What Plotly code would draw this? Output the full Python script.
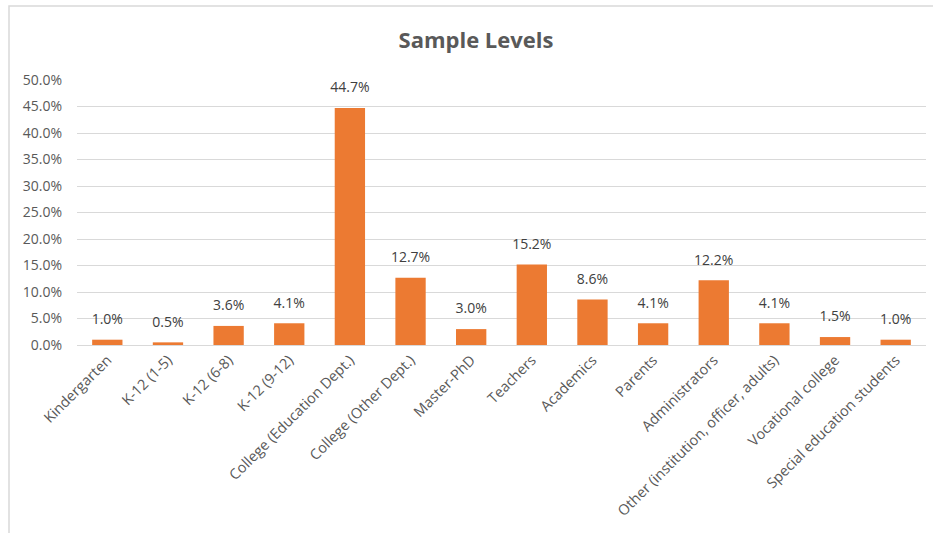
import plotly.graph_objects as go

# Share of respondents by sample level
categories = [
    "Kindergarten", "K-12 (1-5)", "K-12 (6-8)", "K-12 (9-12)",
    "College (Education Dept.)", "College (Other Dept.)", "Master-PhD",
    "Teachers", "Academics", "Parents", "Administrators",
    "Other (institution, officer, adults)", "Vocational college",
    "Special education students",
]
shares = [1.0, 0.5, 3.6, 4.1, 44.7, 12.7, 3.0, 15.2, 8.6, 4.1, 12.2, 4.1, 1.5, 1.0]
y_ticks = [0, 5, 10, 15, 20, 25, 30, 35, 40, 45, 50]

values = [v / 100 for v in shares]
labels = [f"{v:.1f}%" for v in shares]

FONT = "Open Sans, Liberation Sans, sans-serif"
W, H = 933, 533
L, R, T, B = 77, 7, 80, 188

fig = go.Figure()
fig.add_trace(
    go.Bar(
        x=categories,
        y=values,
        marker=dict(color="#EC7A32", line=dict(width=0)),
        hoverinfo="x+y",
    )
)
# value labels floating a little above each bar (invisible marker gives the gap)
fig.add_trace(
    go.Scatter(
        x=categories,
        y=values,
        mode="markers+text",
        marker=dict(size=18, opacity=0),
        text=labels,
        textposition="top center",
        textfont=dict(family=FONT, size=14, color="#404040"),
        cliponaxis=False,
        hoverinfo="skip",
    )
)

# light frame along the top and left edges of the chart area
pw, ph = W - L - R, H - T - B
fx = lambda px: (px - L) / pw
fy = lambda py: (H - B - py) / ph
fig.add_shape(
    type="path",
    xref="paper", yref="paper",
    path=f"M {fx(9)} {fy(H + 5)} L {fx(9)} {fy(6)} L {fx(W + 5)} {fy(6)}",
    line=dict(color="#D9D9D9", width=1.5),
    layer="below",
)

fig.update_layout(
    width=W,
    height=H,
    margin=dict(l=L, r=R, t=T, b=B),
    paper_bgcolor="white",
    plot_bgcolor="white",
    bargap=0.5,
    showlegend=False,
    title=dict(
        text="<b>Sample Levels</b>",
        x=476 / W,
        xanchor="center",
        y=1 - 40 / H,
        yanchor="middle",
        font=dict(family=FONT, size=22, color="#595959"),
    ),
    xaxis=dict(
        range=[-0.5, len(categories) - 0.5],
        tickangle=-45,
        tickfont=dict(family=FONT, size=14.5, color="#595959"),
        showline=True,
        linecolor="#D9D9D9",
        linewidth=1,
        ticks="",
        showgrid=False,
    ),
    yaxis=dict(
        range=[0, 0.5],
        tickvals=[t / 100 for t in y_ticks],
        ticktext=[f"{t:.1f}%" for t in y_ticks],
        tickfont=dict(family=FONT, size=14, color="#595959"),
        gridcolor="#D9D9D9",
        gridwidth=1,
        zeroline=False,
        showline=False,
        ticks="",
        ticklabelstandoff=14,
    ),
)

fig.write_html("out.html")
